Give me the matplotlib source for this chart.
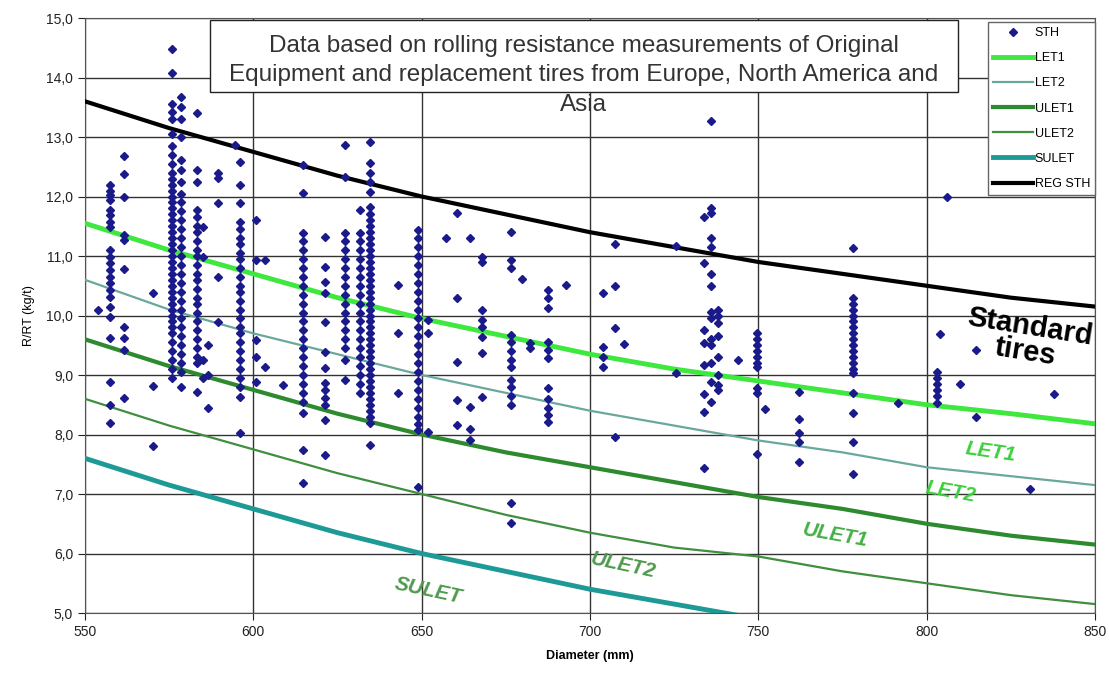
import numpy as np
import matplotlib
matplotlib.use("Agg")
import matplotlib.pyplot as plt
from matplotlib.patches import Rectangle
from matplotlib.ticker import FuncFormatter

plt.rcParams['font.family'] = ['Liberation Sans', 'DejaVu Sans']

# limit curves, every 25 mm
curve_d = [550, 575, 600, 625, 650, 675, 700, 725, 750, 775, 800, 825, 850]
reg_sth = [13.6, 13.15, 12.75, 12.35, 12.0, 11.7, 11.4, 11.15, 10.9, 10.7, 10.5, 10.3, 10.15]
let1 = [11.55, 11.1, 10.7, 10.3, 9.95, 9.65, 9.35, 9.1, 8.9, 8.7, 8.5, 8.35, 8.18]
let2 = [10.6, 10.1, 9.7, 9.35, 9.0, 8.7, 8.4, 8.15, 7.9, 7.7, 7.45, 7.3, 7.15]
ulet1 = [9.6, 9.15, 8.75, 8.35, 8.0, 7.7, 7.45, 7.2, 6.95, 6.75, 6.5, 6.3, 6.15]
ulet2 = [8.6, 8.15, 7.75, 7.35, 7.0, 6.65, 6.35, 6.1, 5.95, 5.7, 5.5, 5.3, 5.15]
sulet_d = [550, 575, 600, 625, 650, 675, 700, 725, 745]
sulet = [7.6, 7.15, 6.75, 6.35, 6.0, 5.7, 5.4, 5.15, 4.95]

# STH measurements, grouped by tire diameter (mm)
sth_cols_d = [553.8, 557.4, 561.7, 570.3, 576, 578.5, 583.2, 585, 586.6, 589.6,
              594.5, 596, 600.8, 603.5, 608.9, 614.8, 621.3, 627.2, 631.7, 634.6,
              643, 649, 651.9, 657.3, 660.5, 664.3, 668, 676.6, 679.8, 682.2,
              687.5, 693, 703.8, 707.4, 710, 725.5, 734, 736, 738, 744,
              749.5, 752, 762, 778, 791.5, 803, 804, 806, 810, 814.6,
              830.7, 837.8]
sth_cols_r = [
    [10.09],
    [12.19, 12.1, 12.02, 11.94, 11.77, 11.69, 11.57, 11.49, 11.10, 10.98, 10.88,
     10.76, 10.65, 10.55, 10.43, 10.31, 10.14, 9.97, 9.62, 8.88, 8.50, 8.19],
    [12.68, 12.38, 11.99, 11.35, 11.27, 10.78, 9.81, 9.62, 9.42, 8.61],
    [10.38, 8.82, 7.8],
    [14.48, 14.08, 13.55, 13.42, 13.3, 13.05, 12.85, 12.7, 12.55, 12.4, 12.3, 12.2,
     12.1, 12.0, 11.9, 11.8, 11.7, 11.6, 11.5, 11.4, 11.3, 11.2, 11.1, 11.0, 10.9,
     10.8, 10.7, 10.6, 10.5, 10.4, 10.3, 10.2, 10.1, 10.0, 9.9, 9.8, 9.7, 9.55,
     9.4, 9.25, 9.1, 8.95],
    [13.67, 13.5, 13.3, 13.0, 12.62, 12.45, 12.25, 12.05, 11.9, 11.75, 11.6, 11.45,
     11.3, 11.15, 11.0, 10.85, 10.7, 10.55, 10.4, 10.25, 10.1, 9.95, 9.8, 9.65,
     9.5, 9.35, 9.2, 9.05, 8.8],
    [13.4, 12.45, 12.24, 11.77, 11.65, 11.5, 11.4, 11.25, 11.1, 11.0, 10.85, 10.7,
     10.6, 10.45, 10.3, 10.2, 10.05, 9.9, 9.75, 9.6, 9.45, 9.3, 9.2, 8.71],
    [11.49, 10.98, 9.25, 8.95],
    [9.5, 9.0, 8.45],
    [12.4, 12.31, 11.89, 10.65, 9.89],
    [12.87],
    [12.58, 12.19, 11.89, 11.57, 11.45, 11.3, 11.2, 11.05, 10.95, 10.8, 10.65, 10.5,
     10.4, 10.25, 10.1, 9.95, 9.8, 9.7, 9.55, 9.4, 9.25, 9.1, 8.95, 8.8, 8.63, 8.02],
    [11.6, 10.93, 9.59, 9.3, 8.88],
    [10.93, 9.13],
    [8.83],
    [12.53, 12.06, 11.39, 11.25, 11.1, 10.95, 10.8, 10.65, 10.5, 10.35, 10.2, 10.05,
     9.9, 9.75, 9.6, 9.45, 9.3, 9.15, 9.0, 8.85, 8.7, 8.55, 8.36, 7.74, 7.18],
    [11.32, 10.82, 10.56, 10.38, 9.89, 9.39, 9.12, 8.87, 8.75, 8.62, 8.5, 8.24, 7.66],
    [12.87, 12.33, 11.39, 11.25, 11.1, 10.95, 10.8, 10.65, 10.5, 10.35, 10.2, 10.05,
     9.9, 9.75, 9.6, 9.45, 9.25, 8.92],
    [11.77, 11.39, 11.25, 11.1, 10.95, 10.8, 10.65, 10.5, 10.35, 10.2, 10.05, 9.9,
     9.75, 9.6, 9.45, 9.3, 9.15, 9.0, 8.85, 8.7],
    [12.92, 12.56, 12.4, 12.25, 12.08, 11.82, 11.7, 11.6, 11.5, 11.4, 11.3, 11.2,
     11.1, 11.0, 10.9, 10.8, 10.7, 10.6, 10.5, 10.4, 10.3, 10.2, 10.1, 10.0, 9.9,
     9.8, 9.7, 9.6, 9.5, 9.4, 9.3, 9.2, 9.1, 9.0, 8.9, 8.8, 8.7, 8.6, 8.5, 8.4,
     8.3, 8.19, 7.82],
    [10.51, 9.71, 8.7],
    [11.44, 11.3, 11.15, 11.0, 10.85, 10.7, 10.55, 10.4, 10.25, 10.1, 9.95, 9.8,
     9.65, 9.5, 9.35, 9.2, 9.05, 8.9, 8.75, 8.6, 8.45, 8.3, 8.18, 8.08, 7.12],
    [9.92, 9.7, 8.04],
    [11.3],
    [11.72, 10.29, 9.22, 8.58, 8.16],
    [11.3, 8.46, 8.1, 7.9],
    [10.98, 10.9, 10.09, 9.92, 9.8, 9.64, 9.37, 8.63],
    [11.4, 10.93, 10.8, 9.67, 9.55, 9.4, 9.25, 9.13, 8.92, 8.8, 8.65, 8.5, 6.85, 6.51],
    [10.61],
    [9.54, 9.45],
    [10.43, 10.3, 10.12, 9.55, 9.42, 9.29, 8.78, 8.6, 8.45, 8.32, 8.21],
    [10.51],
    [10.38, 9.47, 9.3, 9.13],
    [11.2, 10.49, 9.79, 7.96],
    [9.52],
    [11.17, 9.03],
    [11.66, 10.88, 9.76, 9.54, 9.17, 8.68, 8.38, 7.43],
    [13.27, 11.8, 11.72, 11.3, 11.15, 10.7, 10.5, 10.06, 9.95, 9.6, 9.5, 9.2, 8.88, 8.55],
    [10.1, 10.0, 9.87, 9.65, 9.3, 9.0, 8.83, 8.75],
    [9.25],
    [9.7, 9.6, 9.5, 9.4, 9.3, 9.2, 9.13, 8.78, 8.7, 7.67],
    [8.43],
    [8.71, 8.26, 8.02, 7.87, 7.54],
    [11.13, 10.29, 10.2, 10.1, 10.0, 9.9, 9.8, 9.7, 9.6, 9.5, 9.4, 9.3, 9.2, 9.1,
     9.03, 8.70, 8.36, 7.87, 7.34],
    [8.53],
    [9.05, 8.95, 8.85, 8.75, 8.65, 8.53],
    [9.69],
    [12.0],
    [8.85],
    [9.42, 8.29],
    [7.08],
    [8.68],
]

sth_d = np.repeat(sth_cols_d, [len(c) for c in sth_cols_r])
sth_r = np.concatenate(sth_cols_r)

fig = plt.figure(figsize=(11.09, 6.77), dpi=100)
ax = fig.add_axes([0.0766, 0.0945, 0.9108, 0.8789])

ax.plot(sth_d, sth_r, 'D', color='#1a1a8a', markersize=4.4, linestyle='none',
        label='STH', zorder=4)
ax.plot(curve_d, let1, color='#3ee83e', lw=3.5, label='LET1', zorder=3)
ax.plot(curve_d, let2, color='#6aa89c', lw=1.6, label='LET2', zorder=3)
ax.plot(curve_d, ulet1, color='#2e8a2e', lw=3, label='ULET1', zorder=3)
ax.plot(curve_d, ulet2, color='#3f8f3f', lw=1.6, label='ULET2', zorder=3)
ax.plot(sulet_d, sulet, color='#1e9a96', lw=3.5, label='SULET', zorder=3)
ax.plot(curve_d, reg_sth, color='black', lw=3, label='REG STH', zorder=3)

ax.set_xlim(550, 850)
ax.set_ylim(5, 15)
ax.set_xticks(np.arange(550, 851, 50))
ax.set_yticks(np.arange(5, 15.1, 1))
ax.yaxis.set_major_formatter(FuncFormatter(lambda v, p: f"{v:.1f}".replace('.', ',')))
ax.grid(True, color='#333333', lw=1)
ax.set_axisbelow(True)
for s in ax.spines.values():
    s.set_color('#555555')
ax.tick_params(labelsize=10, colors='#222222', length=5)

ax.set_xlabel('Diameter (mm)', fontsize=9, fontweight='bold', labelpad=8)
ax.set_ylabel('R/RT (kg/t)', fontsize=9, labelpad=8)

leg = ax.legend(loc='upper right', bbox_to_anchor=(1.0, 0.993), borderaxespad=0,
                fontsize=9, handlelength=3.2, handletextpad=0.15, labelspacing=1.05,
                fancybox=False, framealpha=1, edgecolor='#666666', markerscale=0.85)

# note box at the top
ax.add_patch(Rectangle((0.124, 0.876), 0.74, 0.12, transform=ax.transAxes,
                       facecolor='white', edgecolor='#222222', lw=1, zorder=5))
ax.text(0.494, 0.971, 'Data based on rolling resistance measurements of Original\n'
        'Equipment and replacement tires from Europe, North America and\nAsia',
        transform=ax.transAxes, ha='center', va='top', fontsize=17.5,
        color='#333333', linespacing=1.42, zorder=6)

ax.text(830, 9.6, 'Standard\ntires', fontsize=21, fontweight='bold', ha='center',
        va='center', rotation=-9, linespacing=0.9, clip_on=False, zorder=6)

lab_style = dict(fontsize=15, fontstyle='italic', fontweight='bold', ha='center',
                 va='center', zorder=6)
ax.text(819, 7.7, 'LET1', color='#3cd03c', rotation=-8, **lab_style)
ax.text(807, 7.03, 'LET2', color='#3cd03c', rotation=-10, **lab_style)
ax.text(773, 6.3, 'ULET1', color='#44b044', rotation=-10, **lab_style)
ax.text(710, 5.8, 'ULET2', color='#4f9a4f', rotation=-12, **lab_style)
ax.text(652, 5.38, 'SULET', color='#4f9a4f', rotation=-12, **lab_style)

fig.savefig('out.png', dpi=100)
